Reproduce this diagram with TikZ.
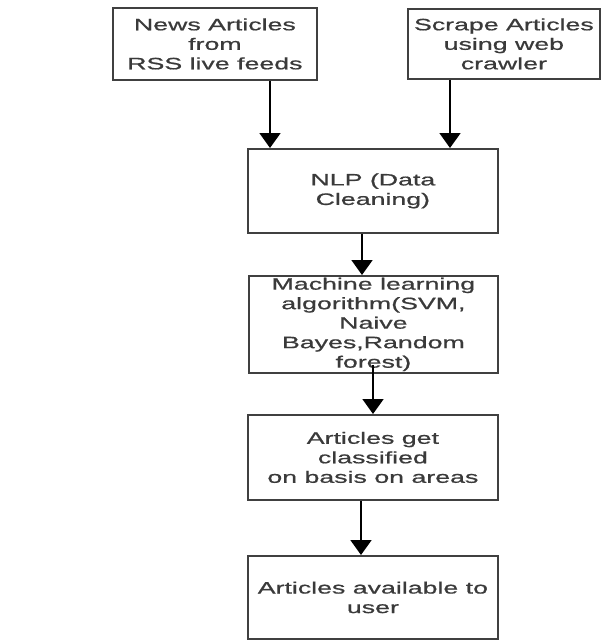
\documentclass[tikz,border=0pt]{standalone}
\usepackage{fontspec}
\setmainfont{Liberation Sans}[FakeStretch=1.62,FakeBold=0.8]
\usetikzlibrary{arrows.meta,calc}
\definecolor{txt}{HTML}{3A3A3A}
\definecolor{edge}{HTML}{404040}
\tikzset{
  box/.style={draw=edge, line width=1.8pt, rectangle, inner sep=0pt, align=center,
    text=txt, font=\fontsize{16.5}{19.5}\selectfont, anchor=north west},
  arr/.style={draw=black, line width=1.8pt, -{Triangle[width=21pt,length=15pt]}}
}
\begin{document}
\begin{tikzpicture}[x=1pt,y=-1pt]
\useasboundingbox (0,0) rectangle (601,640);
\node[box, minimum width=204pt, minimum height=72pt] (rss) at (112,7) {News Articles\\from\\RSS live feeds};
\node[box, minimum width=192pt, minimum height=70pt] (scrape) at (407,8) {Scrape Articles\\using web\\crawler};
\node[box, minimum width=250pt, minimum height=84pt] (nlp) at (247,148) {NLP (Data\\Cleaning)};
\node[box, minimum width=249pt, minimum height=97pt] (ml) at (248,275) {Machine learning\\algorithm(SVM,\\Naive\\Bayes,Random\\forest)};
\node[box, minimum width=250pt, minimum height=85pt] (cls) at (247,414) {Articles get\\classified\\on basis on areas};
\node[box, minimum width=250pt, minimum height=83pt] (avail) at (247,555) {Articles available to\\user};
\coordinate (a1) at (270,0);
\coordinate (a2) at (450,0);
\coordinate (a3) at (362,0);
\coordinate (a4) at (373,0);
\coordinate (a5) at (361,0);
\draw[arr] (rss.south -| a1) -- (nlp.north -| a1);
\draw[arr] (scrape.south -| a2) -- (nlp.north -| a2);
\draw[arr] (nlp.south -| a3) -- (ml.north -| a3);
\draw[arr] ($(ml.south -| a4)+(0,-9)$) -- (cls.north -| a4);
\draw[arr] (cls.south -| a5) -- (avail.north -| a5);
\end{tikzpicture}
\end{document}
